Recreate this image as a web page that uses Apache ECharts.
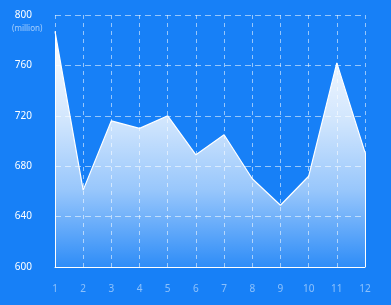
<!DOCTYPE html>
<html><head><meta charset="utf-8">
<script src="https://cdn.jsdelivr.net/npm/echarts@6/dist/echarts.min.js"></script>
<style>html,body{margin:0;padding:0;background:#1780f7;}#c{width:391px;height:305px;}</style>
</head><body><div id="c"></div>
<script>
const categories = ['1','2','3','4','5','6','7','8','9','10','11','12'];
const values = [787, 661, 716, 710, 720, 689, 705, 670, 649, 672, 762, 691];
const yMin = 600, yMax = 800, yStep = 40;
const unitLabel = '(million)';

const chart = echarts.init(document.getElementById('c'));
chart.setOption({
  backgroundColor: '#1780f7',
  animation: false,
  title: { text: unitLabel, left: 7, top: 20, textStyle: { color: 'rgba(255,255,255,0.6)', fontSize: 8, fontWeight: 'normal', fontFamily: 'Noto Sans' } },
  grid: { left: 55, right: 26, top: 15, bottom: 38 },
  xAxis: {
    type: 'category', data: categories, boundaryGap: false,
    axisLine: { show: true, lineStyle: { color: '#ffffff', width: 1 } },
    axisTick: { show: false },
    axisLabel: { color: 'rgba(255,255,255,0.5)', fontSize: 10, margin: 17, fontFamily: 'Noto Sans' },
    splitLine: { show: true, lineStyle: { color: 'rgba(255,255,255,0.55)', type: [4, 4] } }
  },
  yAxis: {
    type: 'value', min: yMin, max: yMax, interval: yStep,
    axisLine: { show: false }, axisTick: { show: false },
    axisLabel: { color: '#ffffff', fontSize: 10, margin: 23, fontFamily: 'Noto Sans' },
    splitLine: { show: true, lineStyle: { color: 'rgba(255,255,255,0.55)', type: [6, 4] } }
  },
  series: [{
    type: 'line', data: values, symbol: 'none', smooth: false,
    lineStyle: { color: '#ffffff', width: 1.2 },
    areaStyle: {
      opacity: 1,
      color: new echarts.graphic.LinearGradient(0, 0, 0, 1, [
        { offset: 0, color: 'rgba(255,255,255,1)' },
        { offset: 0.38, color: 'rgba(255,255,255,0.8)' },
        { offset: 0.67, color: 'rgba(255,255,255,0.56)' },
        { offset: 1, color: 'rgba(255,255,255,0.1)' }
      ])
    },
    markLine: {
      silent: true, symbol: 'none', label: { show: false },
      lineStyle: { color: '#ffffff', type: 'solid', width: 1 },
      data: [
        [{ coord: [categories[0], yMin] }, { coord: [categories[0], values[0]] }],
        [{ coord: [categories[categories.length-1], yMin] }, { coord: [categories[categories.length-1], values[values.length-1]] }]
      ]
    }
  }]
});
</script></body></html>
